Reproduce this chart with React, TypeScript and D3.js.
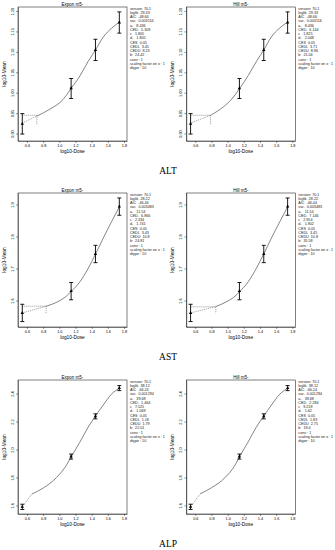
import React, { useEffect, useRef } from "react";
import * as d3 from "d3";

// endpoints (rows) and fitted models (columns)
const rowNames = ["ALT", "AST", "ALP"];
const modelNames = ["Expon m5-", "Hill m5-"];

// observed dose groups, log10 scale
const logDose = [0.542, 1.146, 1.447, 1.742];
const xTicks = [0.6, 0.8, 1.0, 1.2, 1.4, 1.6, 1.8];

const altMean = [0.925, 1.012, 1.106, 1.173];
const altLow = [0.9, 0.987, 1.08, 1.147];
const altHigh = [0.95, 1.036, 1.132, 1.199];
const altTicks = [0.9, 0.95, 1.0, 1.05, 1.1, 1.15, 1.2];

const astMean = [1.563, 1.631, 1.747, 1.895];
const astLow = [1.536, 1.604, 1.72, 1.868];
const astHigh = [1.59, 1.658, 1.774, 1.922];
const astTicks = [1.6, 1.7, 1.8, 1.9];

const alpMean = [1.593, 1.953, 2.241, 2.443];
const alpLow = [1.574, 1.935, 2.223, 2.425];
const alpHigh = [1.612, 1.971, 2.259, 2.461];
const alpTicks = [1.6, 1.8, 2.0, 2.2, 2.4];

// fitted curves
const altExponX = [0.542, 0.722, 0.884, 1.048, 1.143, 1.254, 1.357, 1.448, 1.542, 1.646, 1.75];
const altExponY = [0.927, 0.944, 0.961, 0.985, 1.011, 1.042, 1.078, 1.106, 1.137, 1.159, 1.175];
const altHillX = [0.542, 0.789, 0.95, 1.048, 1.143, 1.254, 1.357, 1.448, 1.542, 1.646, 1.75];
const altHillY = [0.927, 0.946, 0.967, 0.985, 1.01, 1.043, 1.078, 1.106, 1.138, 1.16, 1.175];
const astExponX = [0.542, 0.837, 0.98, 1.09, 1.143, 1.254, 1.357, 1.448, 1.542, 1.646, 1.75];
const astExponY = [1.563, 1.584, 1.598, 1.616, 1.629, 1.66, 1.702, 1.747, 1.796, 1.848, 1.898];
const astHillX = [0.542, 0.854, 0.98, 1.09, 1.143, 1.254, 1.357, 1.448, 1.542, 1.646, 1.75];
const astHillY = [1.563, 1.583, 1.597, 1.615, 1.628, 1.66, 1.703, 1.748, 1.797, 1.848, 1.898];
const alpExponX = [0.542, 0.658, 0.801, 0.967, 1.09, 1.143, 1.254, 1.357, 1.448, 1.542, 1.646, 1.75];
const alpExponY = [1.593, 1.684, 1.728, 1.804, 1.893, 1.948, 2.056, 2.164, 2.244, 2.321, 2.4, 2.444];
const alpHillX = [0.542, 0.66, 0.801, 0.967, 1.09, 1.143, 1.254, 1.357, 1.448, 1.542, 1.646, 1.75];
const alpHillY = [1.593, 1.686, 1.73, 1.802, 1.89, 1.948, 2.058, 2.166, 2.244, 2.322, 2.4, 2.444];

// CED markers: log10 CED, CES level, foot of the vertical line
const cedLog = [0.722, 0.789, 0.837, 0.854, 0.658, 0.66];
const cesLevel = [0.946, 0.946, 1.584, 1.582, null, null];
const cedFoot = [0.924, 0.924, 1.562, 1.562, null, null];

const altExponText = ["version: 70.1", "loglik  29.33", "AIC  -48.66", "var-  0.003116", "a-   8.436", "CED-  5.309", "c   1.805", "d-   1.805", "CES  0.05", "CEDL  3.45", "CEDU  8.23", "b:  24.42", "conv : 1", "scaling factor on x : 1", "dtype : 10"];
const altHillText = ["version: 70.1", "loglik  29.33", "AIC  -48.66", "var-  0.003116", "a-   8.436", "CED-  6.144", "c   1.825", "d-   2.048", "CES  0.05", "CEDL  3.71", "CEDU  8.96", "b:  21.04", "conv : 1", "scaling factor on x : 1", "dtype : 10"];
const astExponText = ["version: 70.1", "loglik  28.22", "AIC  -46.44", "var-  0.003483", "a-   11.54", "CED-  6.866", "c   2.334", "d-   1.741", "CES  0.05", "CEDL  3.43", "CEDU  10.8", "b:  24.81", "conv : 1", "scaling factor on x : 1", "dtype : 10"];
const astHillText = ["version: 70.1", "loglik  28.22", "AIC  -46.44", "var-  0.003483", "a-   11.54", "CED-  7.146", "c   2.954", "d-   1.902", "CES  0.05", "CEDL  3.45", "CEDU  10.8", "b:  35.58", "conv : 1", "scaling factor on x : 1", "dtype : 10"];
const alpExponText = ["version: 70.1", "loglik  38.12", "AIC  -66.24", "var-  0.001294", "a-   39.68", "CED-  1.464", "c   7.525", "d-   1.069", "CES  0.05", "CEDL  1.18", "CEDU  1.79", "b:  22.01", "conv : 1", "scaling factor on x : 1", "dtype : 10"];
const alpHillText = ["version: 70.1", "loglik  38.12", "AIC  -66.24", "var-  0.001294", "a-   39.68", "CED-  2.284", "c   9.218", "d-   1.62", "CES  0.05", "CEDL  1.83", "CEDU  2.75", "b:  19.4", "conv : 1", "scaling factor on x : 1", "dtype : 10"];

const font = "Liberation Sans, Arial, sans-serif";

export default function App() {
  const ref = useRef<SVGSVGElement>(null);

  useEffect(() => {
    const svg = d3.select(ref.current);
    svg.selectAll("*").remove();

    const width = 335,
      height = 550;
    svg.attr("width", width).attr("height", height);
    svg.append("rect").attr("width", width).attr("height", height).attr("fill", "#fff");

    const rows = [
      { mean: altMean, low: altLow, high: altHigh, ticks: altTicks, fmt: ".2f", domain: [0.883, 1.211], top: 7, label: 174 },
      { mean: astMean, low: astLow, high: astHigh, ticks: astTicks, fmt: ".1f", domain: [1.519, 1.9375], top: 193, label: 360 },
      { mean: alpMean, low: alpLow, high: alpHigh, ticks: alpTicks, fmt: ".1f", domain: [1.542, 2.501], top: 380, label: 547 },
    ];
    const curves = [
      [altExponX, altExponY], [altHillX, altHillY],
      [astExponX, astExponY], [astHillX, astHillY],
      [alpExponX, alpExponY], [alpHillX, alpHillY],
    ];
    const texts = [altExponText, altHillText, astExponText, astHillText, alpExponText, alpHillText];

    const boxW = 109,
      boxH = 134;
    const colLeft = [18, 186.3];

    rows.forEach((row, r) => {
      svg
        .append("text")
        .attr("x", 168)
        .attr("y", row.label)
        .attr("text-anchor", "middle")
        .attr("font-family", "Liberation Serif, Times New Roman, serif")
        .attr("font-size", 9.5)
        .text(rowNames[r]);

      modelNames.forEach((model, c) => {
        const k = r * 2 + c;
        const left = colLeft[c];
        const x = d3.scaleLinear().domain([0.489, 1.837]).range([left, left + boxW]);
        const y = d3.scaleLinear().domain(row.domain).range([row.top + boxH, row.top]);
        const g = svg.append("g");

        g.append("rect")
          .attr("x", left)
          .attr("y", row.top)
          .attr("width", boxW)
          .attr("height", boxH)
          .attr("fill", "none")
          .attr("stroke", "#000")
          .attr("stroke-width", 0.5);

        g.append("text")
          .attr("x", left + boxW / 2)
          .attr("y", row.top - 1.5)
          .attr("text-anchor", "middle")
          .attr("font-family", font)
          .attr("font-size", 4.5)
          .text(model);

        const xAxis = g
          .append("g")
          .attr("transform", `translate(0,${row.top + boxH})`)
          .call(
            d3.axisBottom(x).tickValues(xTicks).tickSize(2).tickSizeOuter(0).tickPadding(1.5).tickFormat(d3.format(".1f"))
          );
        xAxis.select(".domain").attr("stroke-width", 0.4);
        xAxis.selectAll("line").attr("stroke-width", 0.4);
        xAxis.selectAll("text").attr("font-size", 3.8).attr("font-family", font);

        const yAxis = g
          .append("g")
          .attr("transform", `translate(${left},0)`)
          .call(
            d3.axisLeft(y).tickValues(row.ticks).tickSize(2).tickSizeOuter(0).tickPadding(1.5).tickFormat(d3.format(row.fmt))
          );
        yAxis.select(".domain").attr("stroke-width", 0.4);
        yAxis.selectAll("line").attr("stroke-width", 0.4);
        // R-style labels, parallel to the axis
        yAxis.selectAll(".tick").attr("transform", null);
        yAxis.selectAll(".tick line").attr("y1", (d: any) => y(d)).attr("y2", (d: any) => y(d));
        yAxis
          .selectAll(".tick text")
          .attr("font-size", 3.8)
          .attr("font-family", font)
          .attr("text-anchor", "middle")
          .attr("x", 0)
          .attr("y", 0)
          .attr("dy", 0)
          .attr("transform", (d: any) => `translate(-4.5,${y(d)}) rotate(-90)`);

        g.append("text")
          .attr("x", left + boxW / 2)
          .attr("y", row.top + boxH + 12)
          .attr("text-anchor", "middle")
          .attr("font-family", font)
          .attr("font-size", 4.8)
          .text("log10-Dose");

        g.append("text")
          .attr("transform", `translate(${left - 12},${row.top + boxH / 2}) rotate(-90)`)
          .attr("text-anchor", "middle")
          .attr("font-family", font)
          .attr("font-size", 4.8)
          .text("log10-Mean");

        // fitted curve: dashed below the CED, solid above
        const [cx, cy] = curves[k];
        const pts = cx.map((v, i) => [v, cy[i]] as [number, number]);
        const line = d3
          .line<[number, number]>()
          .x((d) => x(d[0]))
          .y((d) => y(d[1]))
          .curve(d3.curveMonotoneX);
        const split = cedLog[k];
        g.append("path")
          .attr("d", line(pts.filter((d) => d[0] <= split + 1e-6)))
          .attr("fill", "none")
          .attr("stroke", "#333")
          .attr("stroke-width", 0.5)
          .attr("stroke-dasharray", "1,1");
        g.append("path")
          .attr("d", line(pts.filter((d) => d[0] >= split - 1e-6)))
          .attr("fill", "none")
          .attr("stroke", "#333")
          .attr("stroke-width", 0.6);

        if (cesLevel[k] !== null) {
          g.append("line")
            .attr("x1", x(logDose[0]))
            .attr("x2", x(split))
            .attr("y1", y(cesLevel[k] as number))
            .attr("y2", y(cesLevel[k] as number))
            .attr("stroke", "#333")
            .attr("stroke-width", 0.5)
            .attr("stroke-dasharray", "1,1");
          g.append("line")
            .attr("x1", x(split))
            .attr("x2", x(split))
            .attr("y1", y(cesLevel[k] as number))
            .attr("y2", y(cedFoot[k] as number))
            .attr("stroke", "#333")
            .attr("stroke-width", 0.5)
            .attr("stroke-dasharray", "1,1");
        }

        // error bars and means
        logDose.forEach((d, i) => {
          const px = x(d);
          g.append("line")
            .attr("x1", px).attr("x2", px)
            .attr("y1", y(row.low[i])).attr("y2", y(row.high[i]))
            .attr("stroke", "#000").attr("stroke-width", 0.9);
          [row.low[i], row.high[i]].forEach((v) => {
            g.append("line")
              .attr("x1", px - 2).attr("x2", px + 2)
              .attr("y1", y(v)).attr("y2", y(v))
              .attr("stroke", "#000").attr("stroke-width", 0.9);
          });
          g.append("path")
            .attr("d", d3.symbol(d3.symbolTriangle).size(5)())
            .attr("transform", `translate(${px},${y(row.mean[i])})`)
            .attr("fill", "#000");
        });

        // model summary
        const t = g
          .append("text")
          .attr("font-family", font)
          .attr("font-size", 3.7)
          .attr("fill", "#222")
          .style("white-space", "pre");
        texts[k].forEach((s, i) => {
          t.append("tspan")
            .attr("x", left + boxW + 3)
            .attr("y", row.top + 2.5 + i * 4.25)
            .text(s);
        });
      });
    });
  }, []);

  return (
    <svg ref={ref} style={{ position: "absolute", left: 0, top: 0, display: "block" }}></svg>
  );
}
